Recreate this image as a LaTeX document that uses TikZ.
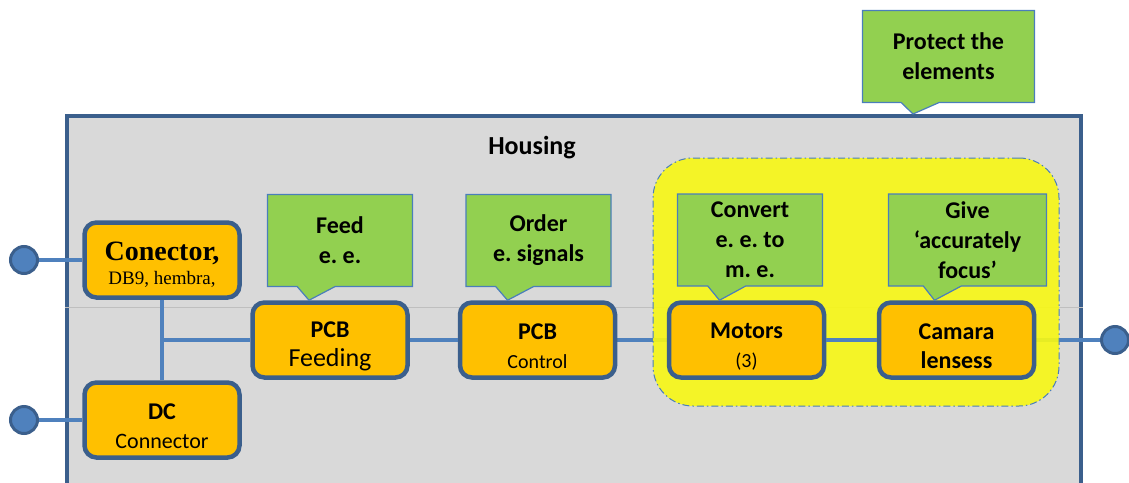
\documentclass[tikz,border=0pt]{standalone}
\usepackage{fontspec}
\setmainfont{Carlito}
\newfontfamily\timesfont{Liberation Serif}
\usetikzlibrary{shapes.callouts}

\definecolor{boxfill}{HTML}{FFC000}
\definecolor{boxedge}{HTML}{3B5F8C}
\definecolor{wirecol}{HTML}{4F81BD}
\definecolor{notefill}{HTML}{92D050}
\definecolor{noteedge}{HTML}{4A7EBB}
\definecolor{housefill}{HTML}{D9D9D9}
\definecolor{zonefill}{HTML}{F8F814}

\pgfdeclarelayer{background}
\pgfsetlayers{background,main}

\newcommand{\toprow}{\rule{0pt}{28pt}}

\tikzset{
  part/.style={draw=boxedge, line width=4.5pt, fill=boxfill, rounded corners=12pt,
    minimum width=155pt, minimum height=75pt, align=center, inner sep=0pt,
    font=\fontsize{24}{29}\selectfont},
  note/.style={rectangle callout, draw=noteedge, line width=1.2pt, fill=notefill,
    minimum width=145pt, minimum height=92pt, align=center, inner sep=0pt,
    callout pointer width=38pt, font=\bfseries\fontsize{24}{30}\selectfont},
  jack/.style={circle, draw=boxedge, line width=3pt, fill=wirecol,
    minimum size=27pt, inner sep=0pt},
  link/.style={draw=wirecol, line width=4pt},
  house/.style={draw=boxedge, line width=4pt, fill=housefill, inner sep=0pt,
    minimum width=1014pt, minimum height=420pt, anchor=north},
  zone/.style={draw=noteedge, line width=1pt, fill=zonefill, fill opacity=0.9,
    dash pattern=on 7pt off 3pt on 1.5pt off 3pt, rounded corners=40pt,
    minimum width=406pt, minimum height=248pt},
  seam/.style={draw=gray!50, line width=1pt}
}

\begin{document}
\frenchspacing
\begin{tikzpicture}[x=1pt,y=-1pt]
\useasboundingbox (0,0) rectangle (1129,482);

\node[part] (conector) at (162,260) {\toprow{\timesfont\bfseries\fontsize{28}{28}\selectfont Conector,}\\[-5pt]{\timesfont\fontsize{19}{28}\selectfont DB9, hembra,}};
\node[part] (dc) at (162,420) {\toprow\textbf{DC}\\{\fontsize{22}{28}\selectfont Connector}};
\node[part] (feeding) at (330,340) {\toprow\textbf{PCB}\\{\fontsize{26}{28}\selectfont Feeding}};
\node[part] (control) at (537.5,340) {\toprow\textbf{PCB}\\{\fontsize{20}{28}\selectfont Control}};
\node[part] (motors) at (746.5,340) {\toprow\textbf{Motors}\\{\fontsize{20}{28}\selectfont (3)}};
\node[part] (camara) at (956.5,340) {\toprow\textbf{Camara}\\\textbf{lensess}};

\node[jack] (plugdb) at (24,260) {};
\node[jack] (plugdc) at (24,420) {};
\node[jack] (plugout) at (1115,340) {};

\begin{pgfonlayer}{background}
\node[house] (housing) at (574,114) {};
\draw[seam] (housing.west |- 0,307) -- (housing.east |- 0,307);
\draw[link] (control) -- (motors);
\draw[link] (camara) -- (plugout);
\node[zone] (optics) at (856,282) {};
\end{pgfonlayer}

\node[font=\bfseries\fontsize{26}{28}\selectfont] (title) at (532,148) {Housing};

\node[note, callout absolute pointer={([xshift=-21pt]feeding.north)}] (feednote) at (340,240.5) {Feed\\e. e.};
\node[note, callout absolute pointer={([xshift=-30pt]control.north)}] (ordernote) at (538.5,240.5) {Order\\e. signals};
\node[note, callout absolute pointer={([xshift=-27pt]motors.north)}] (convertnote) at (750,240) {Convert\\e. e. to\\m. e.};
\node[note, minimum width=158pt, callout absolute pointer={([xshift=-22pt]camara.north)}] (givenote) at (967.5,240) {Give\\‘accurately\\focus’};
\node[note, minimum width=172pt, callout absolute pointer={([xshift=339pt]housing.north)}] (protectnote) at (948.5,56.5) {Protect the\\elements};

\draw[link] (plugdb) -- (conector);
\draw[link] (plugdc) -- (dc);
\draw[link] (conector) -- (dc);
\draw[link] (conector.south |- feeding.west) -- (feeding.west);
\draw[link] (feeding) -- (control);
\draw[link] (motors) -- (camara);
\end{tikzpicture}
\end{document}
